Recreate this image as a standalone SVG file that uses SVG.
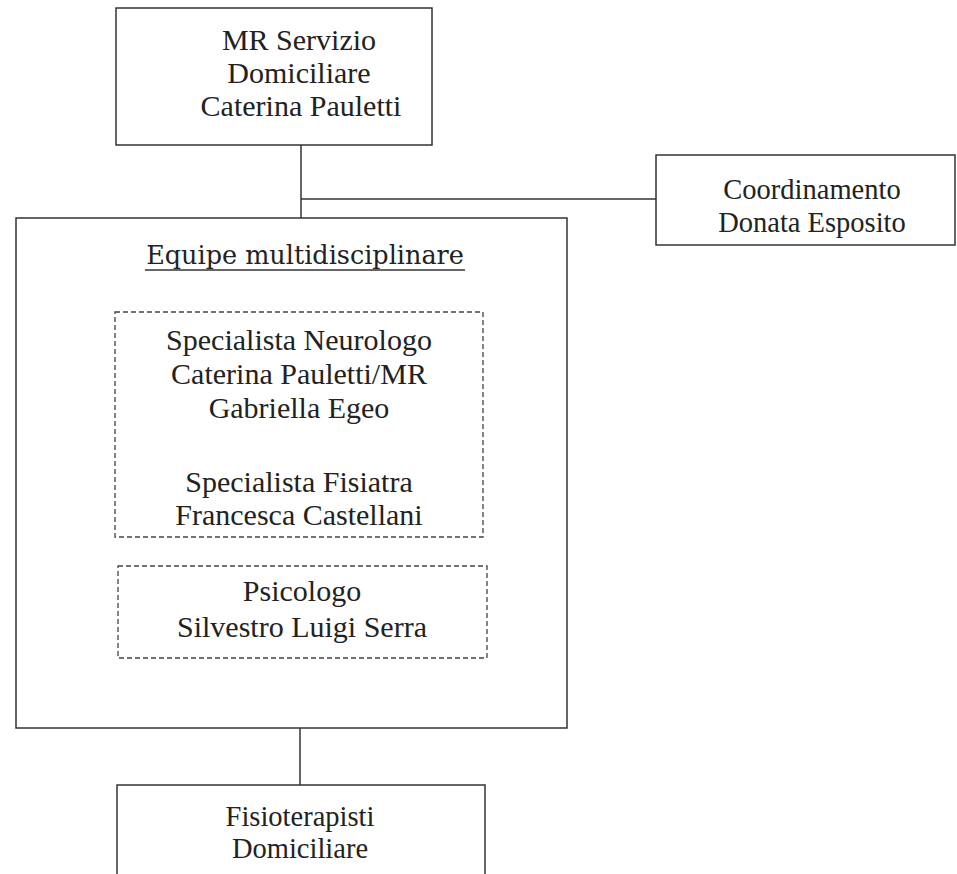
<svg xmlns="http://www.w3.org/2000/svg" width="957" height="874" viewBox="0 0 957 874">
<style>
.box{fill:none;stroke:#333;stroke-width:1.5}
.dash{fill:none;stroke:#444;stroke-width:1.3;stroke-dasharray:5,3}
.t{font-family:"Liberation Serif","Times New Roman",serif;font-size:30px;fill:#222;text-anchor:middle}
.b{font-family:"Liberation Serif","Times New Roman",serif;font-size:28.5px;fill:#222;text-anchor:middle}
.c{font-family:"DejaVu Serif",serif;font-size:25.5px;fill:#222;text-anchor:middle}
.line{stroke:#333;stroke-width:1.5;fill:none}
</style>
<rect width="957" height="874" fill="#fff"/>
<g id="connectors">
<line class="line" x1="301" y1="145" x2="301" y2="218"/>
<line class="line" x1="301" y1="199" x2="656" y2="199"/>
<line class="line" x1="300" y1="728" x2="300" y2="785"/>
</g>
<g id="mr">
<rect class="box" x="116" y="8" width="316" height="137"/>
<text class="t" x="299" y="50">MR Servizio</text>
<text class="t" x="299" y="83">Domiciliare</text>
<text class="t" x="301" y="116">Caterina Pauletti</text>
</g>
<g id="coord">
<rect class="box" x="656" y="155" width="299" height="90"/>
<text class="b" x="812" y="199">Coordinamento</text>
<text class="b" x="812" y="232">Donata Esposito</text>
</g>
<g id="equipe">
<rect class="box" x="16" y="218" width="551" height="510"/>
<text class="c" x="305" y="264">Equipe multidisciplinare</text>
<line x1="145" y1="270" x2="465" y2="270" stroke="#333" stroke-width="1.3"/>
</g>
<g id="specialisti">
<rect class="dash" x="115" y="312" width="368" height="225"/>
<text class="t" x="299" y="350">Specialista Neurologo</text>
<text class="t" x="299" y="384">Caterina Pauletti/MR</text>
<text class="t" x="299" y="418">Gabriella Egeo</text>
<text class="t" x="299" y="492">Specialista Fisiatra</text>
<text class="t" x="299" y="525">Francesca Castellani</text>
</g>
<g id="psicologo">
<rect class="dash" x="118" y="566" width="369" height="92"/>
<text class="t" x="302" y="601">Psicologo</text>
<text class="t" x="302" y="637">Silvestro Luigi Serra</text>
</g>
<g id="fisioterapisti">
<rect class="box" x="117" y="785" width="368" height="100"/>
<text class="b" x="300" y="826">Fisioterapisti</text>
<text class="b" x="300" y="858">Domiciliare</text>
</g>
</svg>
